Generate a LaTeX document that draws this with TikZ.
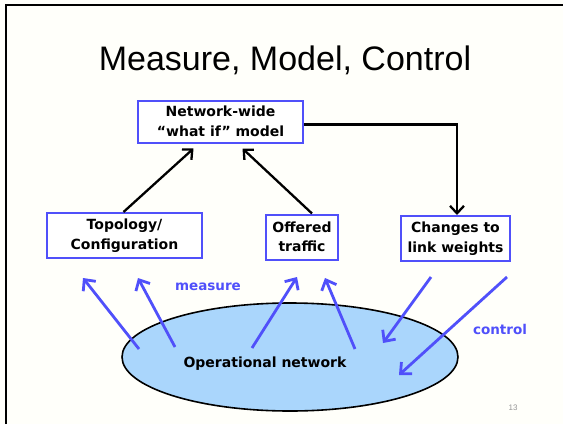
\documentclass[tikz,border=0pt]{standalone}
\usepackage{fontspec}
\setmainfont{Liberation Sans}
\newfontfamily\boxfont{DejaVu Sans}
\usetikzlibrary{arrows.meta,shapes.geometric}
\definecolor{slideblue}{RGB}{80,80,250}
\definecolor{netfill}{RGB}{170,214,252}
\definecolor{pagegray}{RGB}{150,150,150}
\tikzset{
  panel/.style={draw=slideblue, line width=2pt, fill=white, align=center,
    font=\boxfont\bfseries\fontsize{14}{19.5}\selectfont, inner sep=0pt},
  blk/.style={draw=black, line width=2.3pt, -{Straight Barb[length=7.5pt,width=14pt,line width=2.3pt]}},
  bluearrow/.style={draw=slideblue, line width=2.8pt, -{Straight Barb[length=8.5pt,width=16pt,line width=2.8pt]}},
  tag/.style={text=slideblue, font=\boxfont\bfseries\fontsize{13.5}{15}\selectfont}
}
\begin{document}
\begin{tikzpicture}[x=1pt,y=-1pt]
  \useasboundingbox (0,0) rectangle (563,424);
  \fill[white!98!yellow] (0,0) rectangle (563,424);
  % slide frame
  \draw[line width=2pt] (6,424) -- (6,5) -- (563,5);

  % title
  \node (title) at (285,60) {\fontsize{34}{40}\selectfont Measure, Model, Control};

  % boxes
  \node[panel, minimum width=165pt, minimum height=42pt] (model) at (220.5,121.5)
    {Network-wide\\“what if” model};
  \node[panel, minimum width=155pt, minimum height=45pt] (topo) at (124.5,235.5)
    {Topology/\\Configuration};
  \node[panel, minimum width=72pt, minimum height=45pt] (offered) at (302,237)
    {Offered\\traffic};
  \node[panel, minimum width=109pt, minimum height=45pt] (changes) at (455.5,238.5)
    {Changes to\\link weights};

  % operational network
  \node[ellipse, draw=black, line width=1.6pt, fill=netfill,
        minimum width=336pt, minimum height=108pt, inner sep=0pt] (opnet) at (290,357) {};
  \node[font=\boxfont\bfseries\fontsize{14}{16}\selectfont] (oplabel) at (265,364)
    {Operational network};

  % black connectors
  \draw[blk] ([xshift=-1pt]topo.north) -- ([xshift=-27pt,yshift=-5pt]model.south);
  \draw[blk] ([xshift=10pt]offered.north) -- ([xshift=22pt,yshift=-5pt]model.south);
  \draw[blk] ([yshift=-3pt]model.east) -| ([xshift=1.5pt]changes.north);

  % measurement and control arrows
  \coordinate (m1s) at (139,349); \coordinate (m1e) at (83,278);
  \coordinate (m2s) at (175,347); \coordinate (m2e) at (138,278);
  \coordinate (m3s) at (252,348); \coordinate (m3e) at (297,277);
  \coordinate (m4s) at (355,349); \coordinate (m4e) at (325,278);
  \coordinate (c1s) at (431,277); \coordinate (c1e) at (383,343);
  \coordinate (c2s) at (507,277); \coordinate (c2e) at (399,375);
  \draw[bluearrow] (m1s) -- (m1e);
  \draw[bluearrow] (m2s) -- (m2e);
  \draw[bluearrow] (m3s) -- (m3e);
  \draw[bluearrow] (m4s) -- (m4e);
  \draw[bluearrow] (c1s) -- (c1e);
  \draw[bluearrow] (c2s) -- (c2e);

  \node[tag] (measure) at (208,287) {measure};
  \node[tag] (control) at (500,329) {control};

  % page number
  \node[text=pagegray, font=\fontsize{8}{9}\selectfont] (page) at (513,408) {13};
\end{tikzpicture}
\end{document}
